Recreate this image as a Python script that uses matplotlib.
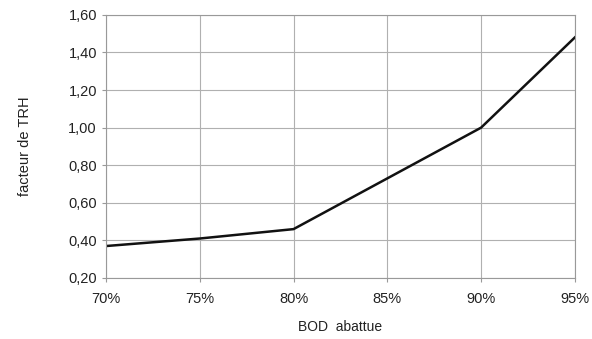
import matplotlib
matplotlib.use('Agg')
from matplotlib import pyplot as plt

bod = [70, 75, 80, 85, 90, 95]
facteur = [0.37, 0.41, 0.46, 0.73, 1.00, 1.48]
xticks = [70, 75, 80, 85, 90, 95]
yticks = [0.2, 0.4, 0.6, 0.8, 1.0, 1.2, 1.4, 1.6]

plt.rcParams['font.family'] = ['Liberation Sans', 'DejaVu Sans']

fig = plt.figure(figsize=(5.92, 3.39), dpi=100)
ax = fig.add_axes([0.179, 0.180, 0.792, 0.776])

ax.plot(bod, facteur, color='#111111', lw=1.8)

ax.set_xlim(70, 95)
ax.set_ylim(0.2, 1.6)
ax.set_xticks(xticks)
ax.set_xticklabels(['%d%%' % v for v in xticks])
ax.set_yticks(yticks)
ax.set_yticklabels([('%.2f' % v).replace('.', ',') for v in yticks])
ax.grid(True, color='#b0b0b0', lw=0.8)
ax.set_axisbelow(True)
for s in ax.spines.values():
    s.set_color('#999999')
    s.set_linewidth(0.8)
ax.tick_params(colors='#999999', labelcolor='#222222', labelsize=10.5, length=3, width=0.8)
ax.tick_params(axis='x', pad=7)

ax.set_xlabel('BOD  abattue', fontsize=10, color='#222222', labelpad=10)
ax.set_ylabel('facteur de TRH', fontsize=10.5, color='#222222', labelpad=26)

fig.savefig('out.png', dpi=100)
